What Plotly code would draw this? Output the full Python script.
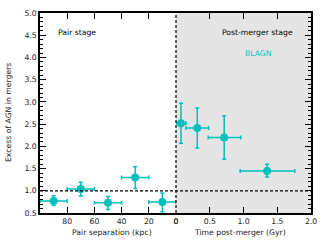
import plotly.graph_objects as go

# Pair stage data
pair_sep = [90, 70, 50, 30, 10]
pair_sep_err = [10, 10, 10, 10, 10]
pair_excess = [0.77, 1.04, 0.73, 1.30, 0.75]
pair_err_up = [0.12, 0.15, 0.14, 0.24, 0.20]
pair_err_dn = [0.10, 0.16, 0.15, 0.25, 0.22]

# Post-merger data
post_time = [0.074, 0.315, 0.714, 1.35]
post_time_err_lo = [0.074, 0.167, 0.237, 0.40]
post_time_err_hi = [0.074, 0.169, 0.247, 0.41]
post_excess = [2.52, 2.41, 2.20, 1.445]
post_err_up = [0.45, 0.45, 0.49, 0.15]
post_err_dn = [0.45, 0.45, 0.49, 0.135]

y_ticks = [0.5, 1.0, 1.5, 2.0, 2.5, 3.0, 3.5, 4.0, 4.5, 5.0]
y_ticklabels = ["0.5", "1.0", "1.5", "2.0", "2.5", "3.0", "3.5", "4.0", "4.5", "5.0"]

CYAN = "#00BFBF"
FONT = "DejaVu Sans"
FS = 7.7

fig = go.Figure()

fig.add_trace(go.Scatter(
    x=pair_sep, y=pair_excess, mode="markers", xaxis="x", yaxis="y",
    marker=dict(color=CYAN, size=8),
    error_x=dict(type="data", array=pair_sep_err, color=CYAN, thickness=1.5, width=2),
    error_y=dict(type="data", array=pair_err_up, arrayminus=pair_err_dn, color=CYAN, thickness=1.5, width=2),
    showlegend=False,
))
fig.add_trace(go.Scatter(
    x=post_time, y=post_excess, mode="markers", xaxis="x2", yaxis="y2",
    marker=dict(color=CYAN, size=8),
    error_x=dict(type="data", array=post_time_err_hi, arrayminus=post_time_err_lo, color=CYAN, thickness=1.5, width=2),
    error_y=dict(type="data", array=post_err_up, arrayminus=post_err_dn, color=CYAN, thickness=1.5, width=2),
    showlegend=False,
))

split = 136 / 271
axis_common = dict(
    showline=True, linecolor="black", linewidth=1.5, ticks="inside",
    ticklen=6, tickwidth=1.2, tickcolor="black", showgrid=False, zeroline=False,
    automargin=False,
    tickfont=dict(family=FONT, size=FS, color="#222222"),
)

fig.update_layout(
    width=327, height=245,
    margin=dict(l=40, r=16, t=13, b=32),
    paper_bgcolor="white", plot_bgcolor="white",
    font=dict(family=FONT, size=FS, color="black"),
    xaxis=dict(
        domain=[0, split], range=[100, 0], anchor="y",
        tickvals=[80, 60, 40, 20, 0], ticktext=["80", "60", "40", "20", "0"],
        mirror="ticks",
        **axis_common,
    ),
    xaxis2=dict(
        domain=[split, 1], range=[0, 2.0], anchor="y2",
        tickvals=[0, 0.5, 1.0, 1.5, 2.0], ticktext=["0", "0.5", "1.0", "1.5", "2.0"],
        mirror="ticks",
        **axis_common,
    ),
    yaxis=dict(
        range=[0.5, 5.0], anchor="x",
        tickvals=y_ticks, ticktext=y_ticklabels,
        minor=dict(ticks="inside", dtick=0.1, ticklen=3, tickcolor="black", tickwidth=1),
        **axis_common,
    ),
    yaxis2=dict(
        range=[0.5, 5.0], anchor="x2", side="right",
        tickvals=y_ticks, showticklabels=False,
        minor=dict(ticks="inside", dtick=0.1, ticklen=3, tickcolor="black", tickwidth=1),
        **axis_common,
    ),
)

# gray background of post-merger panel
fig.add_shape(type="rect", xref="x2 domain", yref="y2 domain", x0=0, x1=1, y0=0, y1=1,
              fillcolor="#e5e5e5", line=dict(width=0), layer="below")
# dashed lines
fig.add_shape(type="line", xref="paper", yref="y", x0=0, x1=1, y0=1.0, y1=1.0,
              line=dict(color="black", width=1.2, dash="3px,2px"))
fig.add_shape(type="line", xref="paper", yref="paper", x0=split, x1=split, y0=0, y1=1,
              line=dict(color="black", width=1.2, dash="3px,2px"))

# axis titles
fig.add_annotation(text="Pair separation (kpc)", xref="paper", yref="paper", x=(112 - 40) / 271, y=-0.095,
                   xanchor="center", yanchor="middle", showarrow=False,
                   font=dict(family=FONT, size=FS, color="#222222"))
fig.add_annotation(text="Time post-merger (Gyr)", xref="paper", yref="paper", x=(240 - 40) / 271, y=-0.095,
                   xanchor="center", yanchor="middle", showarrow=False,
                   font=dict(family=FONT, size=FS, color="#222222"))
fig.add_annotation(text="Excess of AGN in mergers", xref="paper", yref="paper", x=(8 - 40) / 271, y=0.5,
                   xanchor="center", yanchor="middle", textangle=-90, showarrow=False,
                   font=dict(family=FONT, size=FS, color="#222222"))

fig.add_annotation(text="Pair stage", xref="x", yref="y", x=88, y=4.57, xanchor="left",
                   showarrow=False, font=dict(family=FONT, size=FS, color="black"))
fig.add_annotation(text="Post-merger stage", xref="x2", yref="y2", x=1.76, y=4.57, xanchor="right",
                   showarrow=False, font=dict(family=FONT, size=FS, color="black"))
fig.add_annotation(text="BLAGN", xref="x2", yref="y2", x=1.22, y=4.1, xanchor="center",
                   showarrow=False, font=dict(family=FONT, size=FS, color=CYAN))

fig.write_html("out.html", config={"displayModeBar": False},
               post_script="document.body.style.margin='0px';document.body.style.overflow='hidden';")
